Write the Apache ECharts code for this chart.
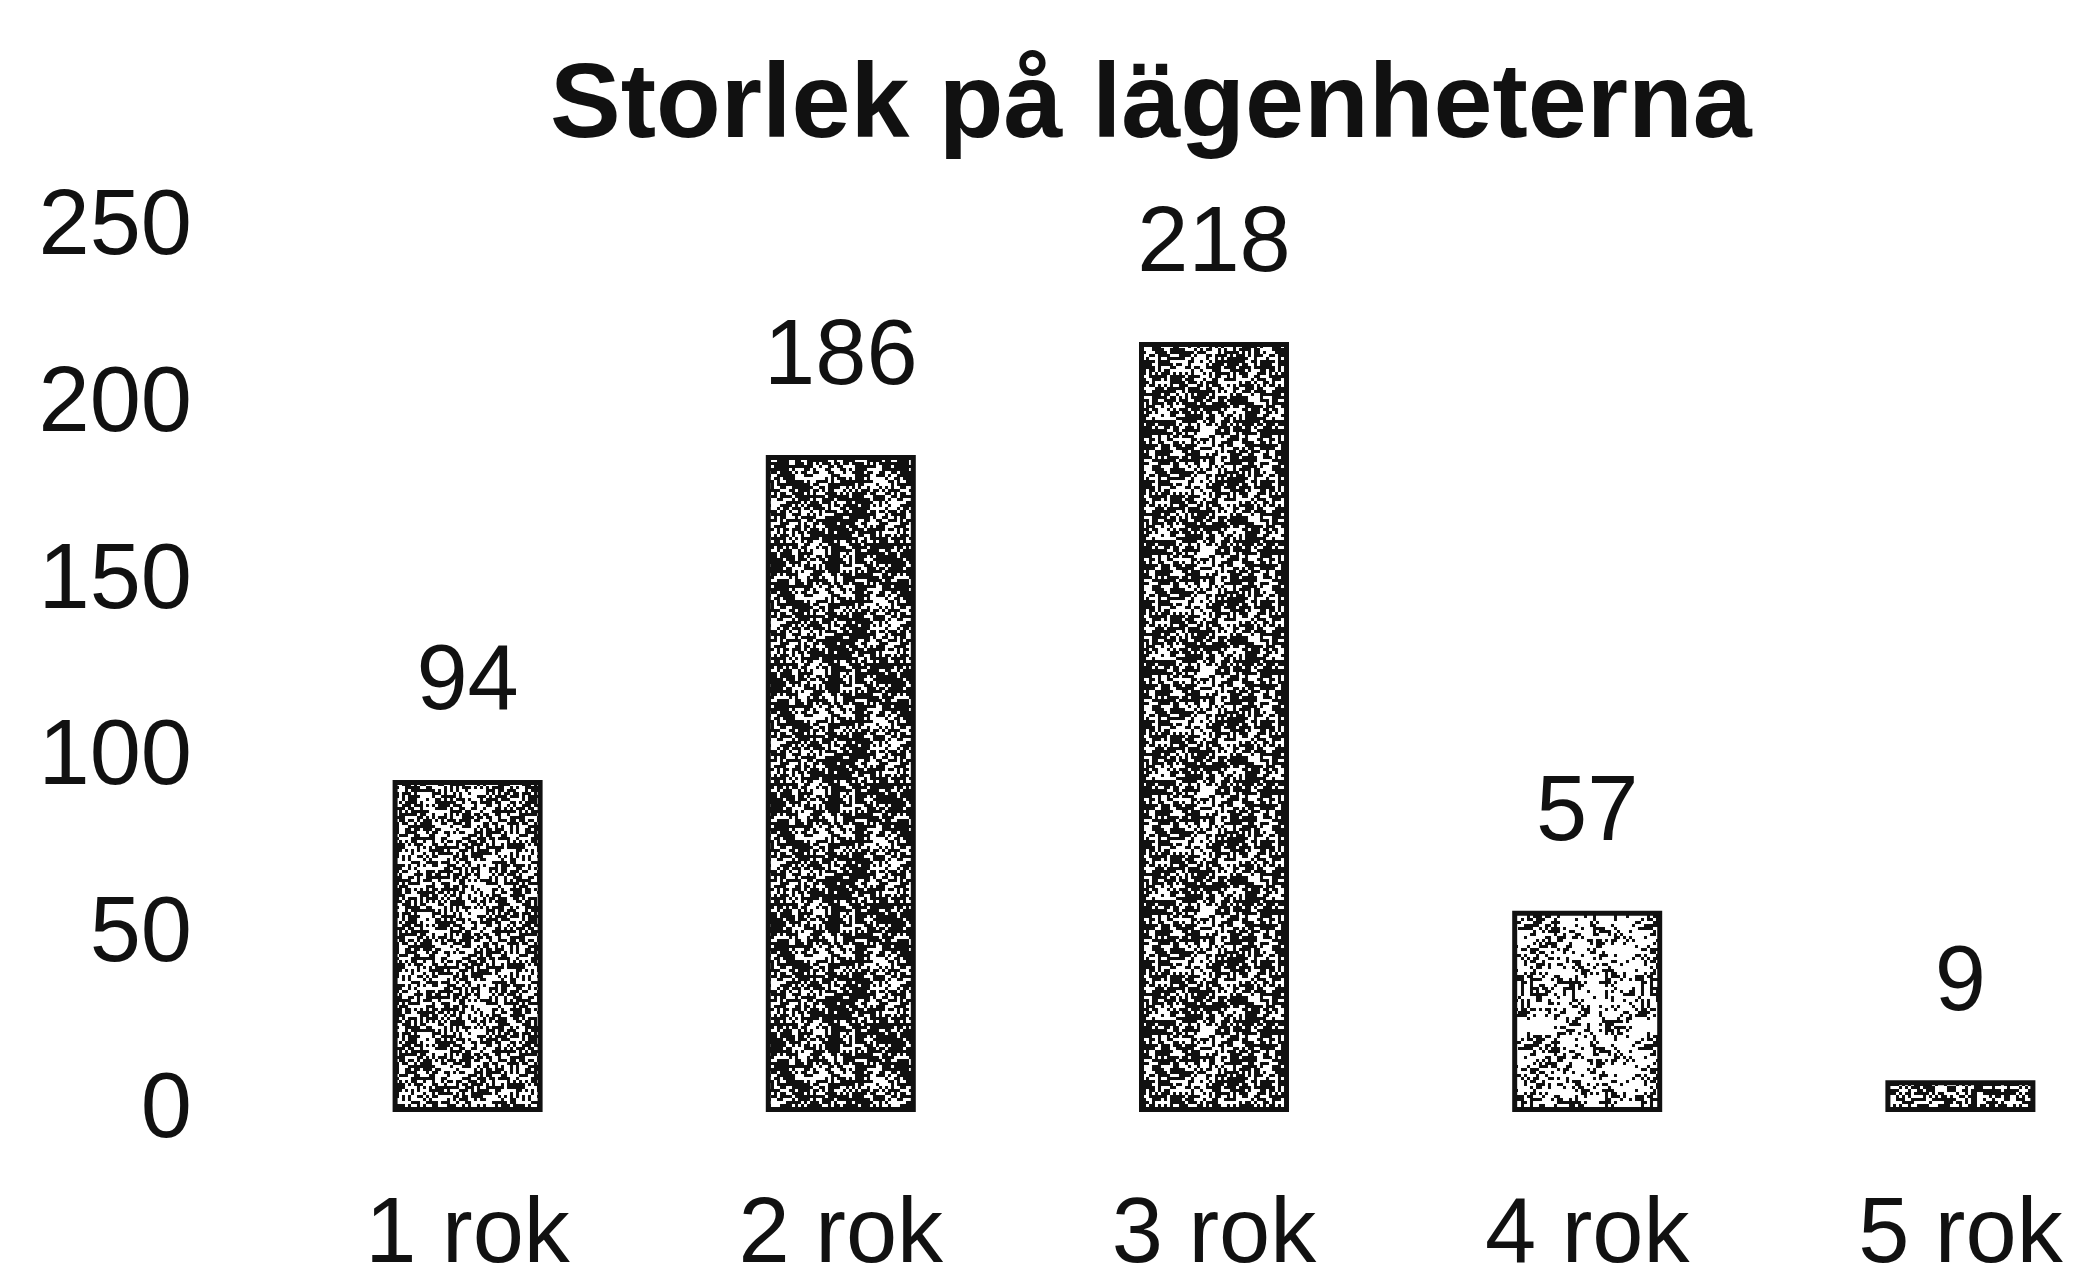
<!DOCTYPE html>
<html>
<head>
<meta charset="utf-8">
<script src="https://cdn.jsdelivr.net/npm/echarts@6/dist/echarts.min.js"></script>
<style>
  html, body { margin: 0; padding: 0; background: #fff; overflow: hidden; }
  /* wider than the window: the last category is cut off at the right edge, like the scan */
  #chart { width: 2160px; height: 1283px; }
</style>
</head>
<body>
<div id="chart"></div>
<script>
const titleText = 'Storlek på lägenheterna'
const categories = ['1 rok', '2 rok', '3 rok', '4 rok', '5 rok']
const counts = [94, 186, 218, 57, 9]
const yTicks = [0, 50, 100, 150, 200, 250]

// how dark the speckled fill of each bar looks (share of black dots)
const darkness = [0.55, 0.66, 0.6, 0.3, 0.55]

// small seeded generator, only used for the scanned-paper speckle texture
function seeded(seed) {
  let a = seed >>> 0
  return function () {
    a = (a + 0x6D2B79F5) >>> 0
    let t = a
    t = Math.imul(t ^ (t >>> 15), t | 1)
    t ^= t + Math.imul(t ^ (t >>> 7), t | 61)
    return ((t ^ (t >>> 14)) >>> 0) / 4294967296
  }
}

function speckle(density, seed) {
  const size = 120
  const cell = 3
  const n = size / cell
  const rnd = seeded(seed)
  const coarse = []
  for (let i = 0; i < 64; i++) coarse.push(rnd())
  const canvas = document.createElement('canvas')
  canvas.width = size
  canvas.height = size
  const ctx = canvas.getContext('2d')
  ctx.fillStyle = '#ffffff'
  ctx.fillRect(0, 0, size, size)
  ctx.fillStyle = '#111111'
  for (let y = 0; y < n; y++) {
    for (let x = 0; x < n; x++) {
      const c = coarse[(Math.floor(y / 5) % 8) * 8 + (Math.floor(x / 5) % 8)]
      const p = density + (c - 0.5) * 0.45
      if (rnd() < p) ctx.fillRect(x * cell, y * cell, cell, cell)
    }
  }
  return canvas
}

const chart = echarts.init(document.getElementById('chart'))

const barData = counts.map((v, i) => ({
  value: v,
  itemStyle: {
    color: { image: speckle(darkness[i], 17 + i * 31), repeat: 'repeat' }
  }
}))

chart.setOption({
  backgroundColor: '#ffffff',
  animation: false,
  title: {
    text: titleText,
    left: 545,
    top: 50,
    textStyle: {
      fontFamily: 'Liberation Sans, Arial, sans-serif',
      fontWeight: 'bold',
      fontSize: 106,
      color: '#111'
    }
  },
  grid: {
    left: 281,
    width: 1866,
    top: 229,
    height: 888,
    containLabel: false
  },
  xAxis: {
    type: 'category',
    data: categories,
    axisLine: { show: false },
    axisTick: { show: false },
    axisLabel: {
      margin: 79,
      fontFamily: 'Liberation Sans, Arial, sans-serif',
      fontSize: 92,
      color: '#111'
    }
  },
  yAxis: {
    type: 'value',
    min: yTicks[0],
    max: yTicks[yTicks.length - 1],
    interval: yTicks[1] - yTicks[0],
    axisLine: { show: false },
    axisTick: { show: false },
    splitLine: { show: false },
    axisLabel: {
      margin: 89,
      fontFamily: 'Liberation Sans, Arial, sans-serif',
      fontSize: 92,
      color: '#111'
    }
  },
  series: [
    {
      type: 'bar',
      data: barData,
      barWidth: 150,
      itemStyle: {
        borderColor: '#111',
        borderWidth: 5
      },
      label: {
        show: true,
        position: 'top',
        distance: 50,
        fontFamily: 'Liberation Sans, Arial, sans-serif',
        fontSize: 92,
        color: '#111'
      }
    }
  ]
})
</script>
</body>
</html>
